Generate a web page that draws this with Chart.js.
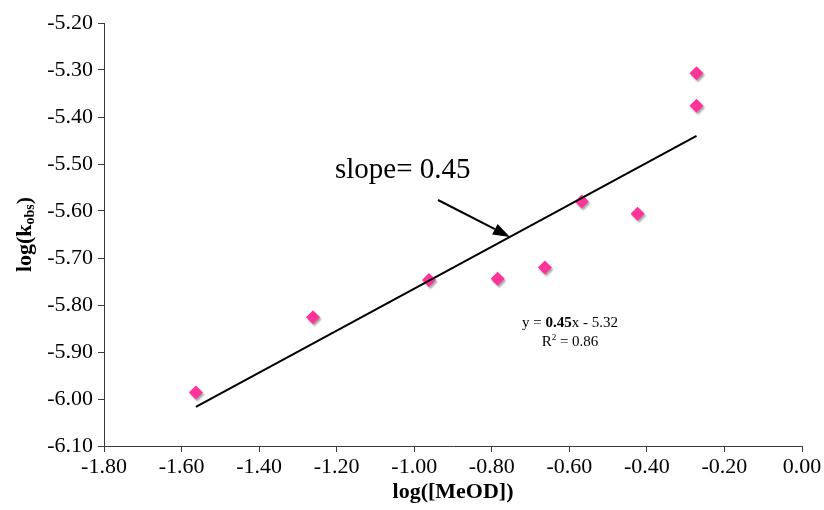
<!DOCTYPE html>
<html><head><meta charset="utf-8">
<script src="https://cdn.jsdelivr.net/npm/chart.js@4.4.1/dist/chart.umd.min.js"></script>
<style>html,body{margin:0;padding:0;background:#fff}#wrap{width:824px;height:510px}</style>
</head><body><div id="wrap"><canvas id="c" width="824" height="510"></canvas></div>
<script>
// ---- data ----
const logMeOD = [-1.563, -1.261, -0.962, -0.785, -0.663, -0.568, -0.424, -0.272, -0.272];
const logKobs = [-5.986, -5.826, -5.747, -5.744, -5.720, -5.580, -5.606, -5.307, -5.376];
const trendX = [-1.563, -0.272];
const trendY = [-6.017, -5.440];
const xTicks = [-1.80, -1.60, -1.40, -1.20, -1.00, -0.80, -0.60, -0.40, -0.20, 0.00];
const yTicks = [-6.10, -6.00, -5.90, -5.80, -5.70, -5.60, -5.50, -5.40, -5.30, -5.20];
const slopeText = 'slope= 0.45';
const eqSlope = '0.45';
const eqIntercept = '5.32';
const rSquared = '0.86';

const SERIF = '"Liberation Serif", "Times New Roman", serif';
const AXIS = '#3a3a3a';

const shadowPlugin = {
  id: 'shadow',
  beforeDatasetDraw(chart, args) {
    if (args.index === 1) {
      const ctx = chart.ctx; ctx.save();
      ctx.shadowColor = 'rgba(0,0,0,0.35)';
      ctx.shadowOffsetX = 1.5; ctx.shadowOffsetY = 2; ctx.shadowBlur = 2;
    }
  },
  afterDatasetDraw(chart, args) {
    if (args.index === 1) chart.ctx.restore();
  }
};

const annotPlugin = {
  id: 'annot',
  afterDraw(chart) {
    const ctx = chart.ctx;
    ctx.save();
    ctx.fillStyle = '#000';
    ctx.strokeStyle = '#000';
    // slope label
    ctx.font = '29px ' + SERIF;
    ctx.textAlign = 'left'; ctx.textBaseline = 'alphabetic';
    ctx.fillText(slopeText, 335, 178);
    // arrow
    const x0 = 438, y0 = 200, x1 = 510, y1 = 237;
    const ang = Math.atan2(y1 - y0, x1 - x0);
    const L = 17, W = 6;
    const bx = x1 - L * Math.cos(ang), by = y1 - L * Math.sin(ang);
    ctx.lineWidth = 2;
    ctx.beginPath(); ctx.moveTo(x0, y0); ctx.lineTo(bx, by); ctx.stroke();
    ctx.beginPath();
    ctx.moveTo(x1, y1);
    ctx.lineTo(bx + W * Math.sin(ang), by - W * Math.cos(ang));
    ctx.lineTo(bx - W * Math.sin(ang), by + W * Math.cos(ang));
    ctx.closePath(); ctx.fill();
    // equation
    const fN = '15px ' + SERIF, fB = 'bold 15px ' + SERIF;
    const p1 = 'y = ', p3 = 'x - ' + eqIntercept;
    ctx.font = fN; const w1 = ctx.measureText(p1).width, w3 = ctx.measureText(p3).width;
    ctx.font = fB; const w2 = ctx.measureText(eqSlope).width;
    let ex = 570 - (w1 + w2 + w3) / 2;
    ctx.font = fN; ctx.fillText(p1, ex, 327); ex += w1;
    ctx.font = fB; ctx.fillText(eqSlope, ex, 327); ex += w2;
    ctx.font = fN; ctx.fillText(p3, ex, 327);
    // R^2
    const r1 = 'R', r3 = ' = ' + rSquared;
    ctx.font = fN; const rw1 = ctx.measureText(r1).width, rw3 = ctx.measureText(r3).width;
    ctx.font = '9px ' + SERIF; const rw2 = ctx.measureText('2').width;
    let rx = 570 - (rw1 + rw2 + rw3) / 2;
    ctx.font = fN; ctx.fillText(r1, rx, 346); rx += rw1;
    ctx.font = '9px ' + SERIF; ctx.fillText('2', rx, 340); rx += rw2;
    ctx.font = fN; ctx.fillText(r3, rx, 346);
    // y axis title with subscript
    const a = chart.chartArea;
    ctx.translate(24, (a.top + a.bottom) / 2);
    ctx.rotate(-Math.PI / 2);
    const tB = 'bold 22px ' + SERIF, tS = 'bold 14px ' + SERIF;
    ctx.font = tB; const t1 = ctx.measureText('log(k').width, t3 = ctx.measureText(')').width;
    ctx.font = tS; const t2 = ctx.measureText('obs').width;
    let tx = -(t1 + t2 + t3) / 2;
    ctx.textBaseline = 'alphabetic';
    ctx.font = tB; ctx.fillText('log(k', tx, 7); tx += t1;
    ctx.font = tS; ctx.fillText('obs', tx, 10); tx += t2;
    ctx.font = tB; ctx.fillText(')', tx, 7);
    ctx.restore();
  }
};

new Chart(document.getElementById('c'), {
  type: 'scatter',
  data: {
    datasets: [
      {
        type: 'line',
        data: trendX.map((x, i) => ({ x, y: trendY[i] })),
        borderColor: '#000', borderWidth: 2, pointRadius: 0, fill: false, tension: 0
      },
      {
        data: logMeOD.map((x, i) => ({ x, y: logKobs[i] })),
        pointStyle: 'rectRot', pointRadius: 7, pointHoverRadius: 7,
        backgroundColor: '#FF3399', borderColor: '#FF3399', borderWidth: 0
      }
    ]
  },
  options: {
    responsive: false, animation: false, devicePixelRatio: 1,
    layout: { padding: { top: 23, right: 22, left: 0, bottom: 0 } },
    plugins: { legend: { display: false }, tooltip: { enabled: false } },
    scales: {
      x: {
        type: 'linear', min: -1.8, max: 0,
        afterBuildTicks(s) { s.ticks = xTicks.map(v => ({ value: v })); },
        afterFit(s) { s.height = 64; s.paddingLeft = 0; s.paddingRight = 0; },
        ticks: { callback: v => v.toFixed(2), font: { family: SERIF, size: 22 }, color: '#000', padding: 2, maxRotation: 0, autoSkip: false },
        grid: { drawOnChartArea: false, drawTicks: true, tickLength: 6, color: AXIS },
        border: { display: true, color: AXIS, width: 1 },
        title: { display: true, text: 'log([MeOD])', color: '#000', font: { family: SERIF, size: 22, weight: 'bold' }, padding: { top: 0, bottom: 4 } }
      },
      y: {
        type: 'linear', min: -6.1, max: -5.2,
        afterBuildTicks(s) { s.ticks = yTicks.map(v => ({ value: v })); },
        afterFit(s) { s.width = 104; s.paddingTop = 0; s.paddingBottom = 0; },
        ticks: { callback: v => v.toFixed(2), font: { family: SERIF, size: 22 }, color: '#000', padding: 5, autoSkip: false },
        grid: { drawOnChartArea: false, drawTicks: true, tickLength: 6, color: AXIS },
        border: { display: true, color: AXIS, width: 1 }
      }
    }
  },
  plugins: [shadowPlugin, annotPlugin]
});
</script></body></html>
